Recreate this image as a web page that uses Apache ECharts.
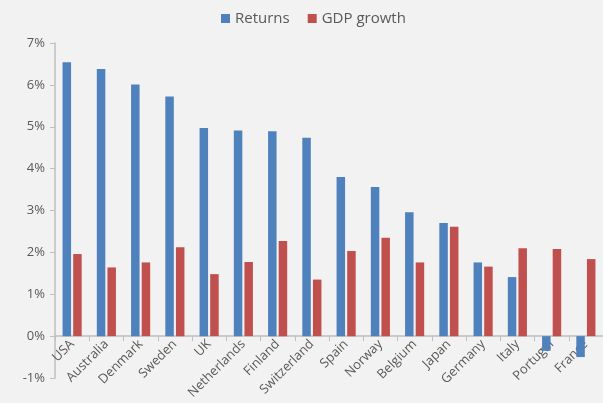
<!DOCTYPE html>
<html>
<head>
<meta charset="utf-8">
<script src="https://cdn.jsdelivr.net/npm/echarts@6/dist/echarts.min.js"></script>
<style>
  html, body { margin: 0; padding: 0; background: #f2f2f2; }
  #chart { width: 603px; height: 403px; }
</style>
</head>
<body>
<div id="chart"></div>
<script>
var countries = ['USA', 'Australia', 'Denmark', 'Sweden', 'UK', 'Netherlands', 'Finland', 'Switzerland',
                 'Spain', 'Norway', 'Belgium', 'Japan', 'Germany', 'Italy', 'Portugal', 'France'];
var returns = [6.54, 6.38, 6.01, 5.72, 4.97, 4.91, 4.89, 4.74, 3.80, 3.56, 2.96, 2.70, 1.76, 1.41, -0.35, -0.50];
var gdpGrowth = [1.96, 1.64, 1.76, 2.12, 1.48, 1.77, 2.27, 1.35, 2.03, 2.35, 1.76, 2.61, 1.66, 2.10, 2.08, 1.84];

var textColor = '#595959';
var font = 'Open Sans';

// plot area 43..378 for -1%..7%, so the zero line sits one step above the bottom
var gridTop = 43, gridBottom = 25;
var step = (403 - gridTop - gridBottom) / 8;

var chart = echarts.init(document.getElementById('chart'));
chart.setOption({
    backgroundColor: '#f2f2f2',
    animation: false,
    textStyle: { fontFamily: font },
    legend: {
        top: 6,
        left: 216,
        itemWidth: 9,
        itemHeight: 9,
        itemGap: 18,
        icon: 'rect',
        textStyle: { color: textColor, fontSize: 15, fontFamily: font },
        data: ['Returns', 'GDP growth']
    },
    grid: { left: 55, right: 0, top: gridTop, bottom: gridBottom, containLabel: false, outerBoundsMode: 'none' },
    xAxis: {
        type: 'category',
        data: countries,
        offset: -step,
        z: 0,
        axisLine: { onZero: false, lineStyle: { color: '#bfbfbf', width: 1.5 } },
        axisTick: { show: true, length: 5, lineStyle: { color: '#bfbfbf' } },
        axisLabel: { rotate: 45, color: textColor, fontSize: 13, margin: 6, interval: 0 }
    },
    yAxis: {
        type: 'value',
        min: -1,
        max: 7,
        interval: 1,
        splitLine: { show: false },
        axisLine: { show: true, lineStyle: { color: '#bfbfbf', width: 1.5 } },
        axisTick: { show: true, length: 5, lineStyle: { color: '#bfbfbf' } },
        axisLabel: { color: textColor, fontSize: 13, margin: 10, formatter: '{value}%' }
    },
    series: [
        {
            name: 'Returns',
            type: 'bar',
            data: returns,
            barWidth: 8.5,
            barGap: '25%',
            z: 5,
            itemStyle: { color: '#4f81bd' }
        },
        {
            name: 'GDP growth',
            type: 'bar',
            data: gdpGrowth,
            barWidth: 8.5,
            z: 5,
            itemStyle: { color: '#c0504d' }
        }
    ]
});
</script>
</body>
</html>
